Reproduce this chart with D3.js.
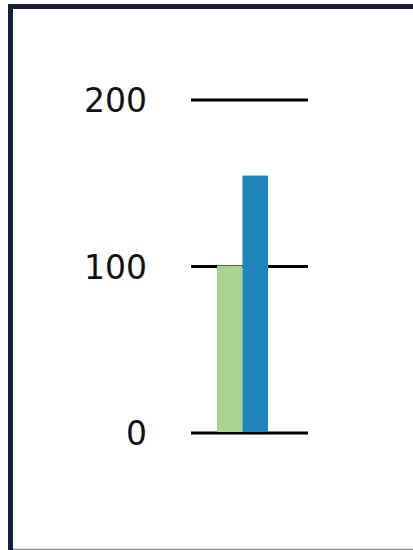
<!DOCTYPE html>
<html>
<head>
<meta charset="utf-8">
<script src="https://cdn.jsdelivr.net/npm/d3@7"></script>
<style>
  html, body { margin: 0; padding: 0; background: #fff; }
  svg { display: block; }
</style>
</head>
<body>
<script>
// Chart data
const seriesNames = ["Series 1", "Series 2"];
const seriesValues = [100, 154];
const seriesColors = ["#a9d38f", "#1c86bb"];
const tickValues = [0, 100, 200];
const tickLabels = ["0", "100", "200"];

const W = 413, H = 550;
const svg = d3.select("body").append("svg")
  .attr("width", W).attr("height", H);

// Frame
svg.append("rect").attr("x", 0).attr("y", 0).attr("width", W).attr("height", H).attr("fill", "#fff");
svg.append("path")
  .attr("d", "M10.5,550 L10.5,6.5 L413,6.5")
  .attr("fill", "none")
  .attr("stroke", "#17203a")
  .attr("stroke-width", 5);
svg.append("line")
  .attr("x1", 13).attr("x2", W).attr("y1", 549.5).attr("y2", 549.5)
  .attr("stroke", "#8c8c8c").attr("stroke-width", 1.5);

// Scales
const y = d3.scaleLinear().domain([0, 200]).range([433, 100]);
const x = d3.scaleBand().domain(seriesNames).range([217, 268]).padding(0);
const gridX0 = 191, gridX1 = 308;

// Gridlines (drawn beneath the bars)
svg.append("g").selectAll("line")
  .data(tickValues)
  .join("line")
  .attr("x1", gridX0).attr("x2", gridX1)
  .attr("y1", d => y(d)).attr("y2", d => y(d))
  .attr("stroke", "#000").attr("stroke-width", 3);

// Bars
svg.append("g").selectAll("rect")
  .data(seriesNames)
  .join("rect")
  .attr("x", d => x(d))
  .attr("width", x.bandwidth())
  .attr("y", (d, i) => y(seriesValues[i]) - 1)
  .attr("height", (d, i) => y(0) - y(seriesValues[i]))
  .attr("fill", (d, i) => seriesColors[i]);

// Axis labels
const axis = d3.axisLeft(y).tickValues(tickValues)
  .tickFormat((d, i) => tickLabels[i]).tickSize(0).tickPadding(0);
const gAxis = svg.append("g").attr("transform", "translate(147,0)").call(axis);
gAxis.select(".domain").remove();
gAxis.selectAll("text")
  .attr("font-family", "'DejaVu Sans', sans-serif")
  .attr("font-size", 33)
  .attr("fill", "#111")
  .attr("dy", "0.36em");
</script>
</body>
</html>
